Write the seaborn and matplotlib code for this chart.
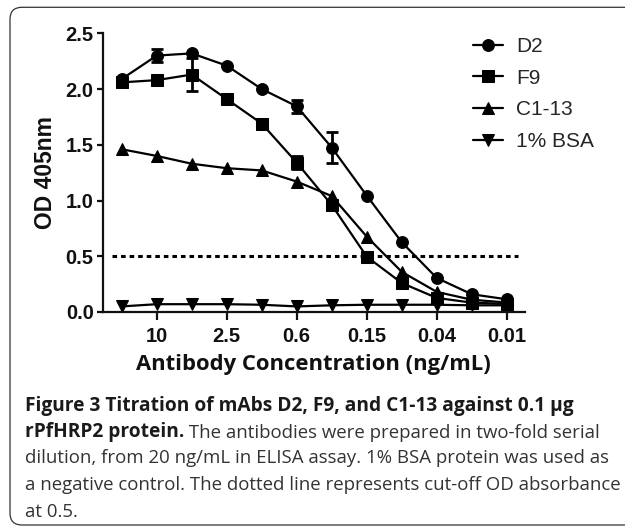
import numpy as np
import pandas as pd
import matplotlib
matplotlib.use('Agg')
import matplotlib.pyplot as plt
import seaborn as sns
from matplotlib.patches import FancyBboxPatch
from matplotlib.ticker import NullLocator

# ================= data =================
conc = [20, 10, 5, 2.5, 1.25, 0.625, 0.3125, 0.15625, 0.078125, 0.0390625, 0.01953125, 0.009765625]
d2 = [2.09, 2.30, 2.32, 2.21, 2.00, 1.845, 1.475, 1.044, 0.626, 0.305, 0.159, 0.114]
f9 = [2.06, 2.08, 2.13, 1.91, 1.69, 1.34, 0.96, 0.496, 0.26, 0.126, 0.084, 0.072]
c113 = [1.46, 1.40, 1.33, 1.29, 1.27, 1.17, 1.04, 0.676, 0.36, 0.18, 0.11, 0.085]
bsa = [0.05, 0.07, 0.07, 0.07, 0.065, 0.05, 0.06, 0.065, 0.065, 0.065, 0.06, 0.06]
d2_err = [0, 0.055, 0, 0, 0, 0.06, 0.14, 0, 0, 0, 0, 0]
f9_err = [0, 0, 0.15, 0, 0, 0.06, 0, 0, 0, 0, 0, 0]
names = ['D2', 'F9', 'C1-13', '1% BSA']
xtick_labels = ['10', '2.5', '0.6', '0.15', '0.04', '0.01']
cutoff = 0.5

df = pd.DataFrame({
    'conc': conc * 4,
    'od': d2 + f9 + c113 + bsa,
    'antibody': np.repeat(names, len(conc)),
})

# ================= style =================
sns.set_style('ticks')
plt.rcParams['font.family'] = ['Liberation Sans', 'DejaVu Sans']
INK = '#111111'

fig = plt.figure(figsize=(6.25, 5.28), dpi=100)
fig.patch.set_facecolor('white')

# rounded frame around figure + caption
frame = FancyBboxPatch((0.10, 0.03), 6.6, 5.177, boxstyle='round,pad=0,rounding_size=0.12',
                       transform=fig.dpi_scale_trans, facecolor='none', edgecolor='#333333', linewidth=0.9)
fig.add_artist(frame)

ax = fig.add_axes([0.1643, 0.4091, 0.6757, 0.5278])
ax.set_xscale('log', base=2)

sns.lineplot(ax=ax, data=df, x='conc', y='od', hue='antibody', style='antibody',
             hue_order=names, style_order=names, palette=['black'] * 4,
             markers={'D2': 'o', 'F9': 's', 'C1-13': '^', '1% BSA': 'v'}, dashes=False,
             markersize=8.5, markeredgecolor='black', linewidth=1.6, legend=True)

# error bars (mean ± SD where visible)
for vals, err in [(d2, d2_err), (f9, f9_err)]:
    idx = [i for i, e in enumerate(err) if e > 0]
    ax.errorbar([conc[i] for i in idx], [vals[i] for i in idx], yerr=[err[i] for i in idx],
                fmt='none', ecolor='black', elinewidth=2, capsize=4, capthick=2, zorder=5)

# cut-off line
ax.axhline(cutoff, xmin=0.022, xmax=0.983, color='black', linewidth=2.2, linestyle=(0, (1.5, 1.3)))

ax.set_xlim(20 * 2 ** 0.543, 20 / 2 ** 11.52)
ax.set_ylim(0, 2.5)
ax.set_xticks(conc[1::2], xtick_labels, fontweight='bold', fontsize=14.5)
ax.xaxis.set_minor_locator(NullLocator())
ax.set_yticks([0, 0.5, 1.0, 1.5, 2.0, 2.5], ['0.0', '0.5', '1.0', '1.5', '2.0', '2.5'],
              fontweight='bold', fontsize=14.5)
ax.tick_params(axis='x', length=6, width=1.6, pad=4.5, colors=INK)
ax.tick_params(axis='y', length=4.5, width=1.6, pad=2, colors=INK)
for s in ['left', 'bottom']:
    ax.spines[s].set_linewidth(1.6)
    ax.spines[s].set_color(INK)
sns.despine(ax=ax)

ax.set_ylabel('OD 405nm', fontsize=16.5, fontweight='bold', labelpad=6, color=INK)
ax.set_xlabel('Antibody Concentration (ng/mL)', fontsize=15.8, fontweight='bold', labelpad=6,
              family=['Open Sans', 'DejaVu Sans'], color=INK)

handles, labels = ax.get_legend_handles_labels()
ax.legend(handles, labels, loc='upper left', bbox_to_anchor=(0.757, 0.930), bbox_transform=fig.transFigure,
          frameon=False, fontsize=15, handlelength=1.45, handletextpad=0.6, labelspacing=0.61,
          borderpad=0, borderaxespad=0)

# ================= caption =================
cap_font = ['Open Sans', 'DejaVu Sans']
bold_size = 13.8
reg_size = 13.4
lines = [
    ('Figure 3 Titration of mAbs D2, F9, and C1-13 against 0.1 µg', ''),
    ('rPfHRP2 protein.', ' The antibodies were prepared in two-fold serial'),
    ('', 'dilution, from 20 ng/mL in ELISA assay. 1% BSA protein was used as'),
    ('', 'a negative control. The dotted line represents cut-off OD absorbance'),
    ('', 'at 0.5.'),
]
line_y = [406, 432, 458, 485, 512]
for (bold, regular), ypx in zip(lines, line_y):
    y = 1 - ypx / 528
    if bold:
        t = fig.text(25 / 625, y - 0.009, bold, fontsize=bold_size, fontweight='bold', family=cap_font,
                     color='#1a1a1a', ha='left', va='baseline')
        if regular:
            ax.annotate(regular, xy=(1, 0), xycoords=t, ha='left', va='bottom', fontsize=reg_size,
                        family=cap_font, color='#333333', annotation_clip=False)
    else:
        fig.text(25 / 625, y - 0.009, regular, fontsize=reg_size, family=cap_font, color='#333333',
                 ha='left', va='baseline')

plt.savefig('out.png', dpi=100)
